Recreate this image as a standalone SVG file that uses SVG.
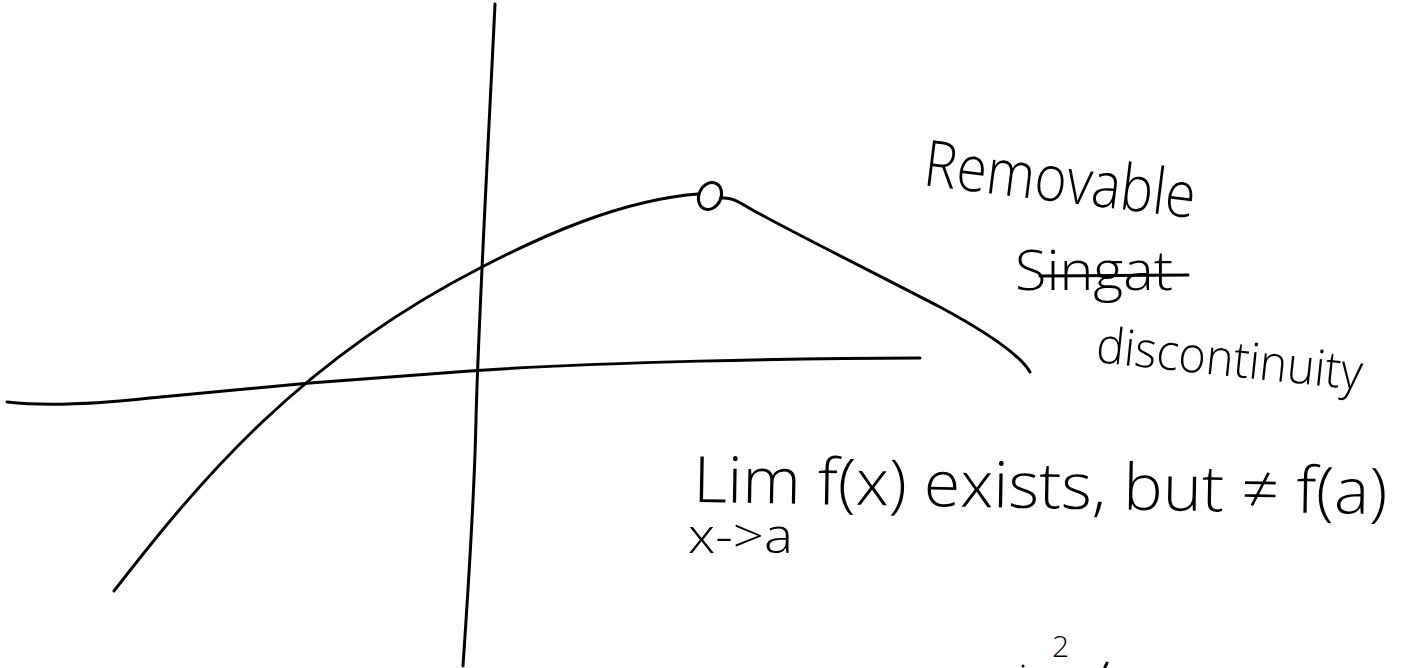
<svg xmlns="http://www.w3.org/2000/svg" width="1410" height="668" viewBox="0 0 1410 668">
<style>
.ln{fill:none;stroke:#000;stroke-width:3;stroke-linecap:round;stroke-linejoin:round}
.hw{font-family:"Open Sans","Liberation Sans",sans-serif;font-weight:300;fill:#000}
</style>
<rect width="1410" height="668" fill="#fff"/>
<g id="axes">
<path class="ln" d="M495,4 C488,150 478,330 476,420 S466,620 463,666"/>
<path class="ln" d="M7,402 Q60,408 150,398 L310,383 L470,371 C600,362 800,358 920,358"/>
</g>
<g id="curve">
<path class="ln" d="M114,591 C200,480 300,360 482,267 C540,237 620,200 698,194"/>
<ellipse class="ln" cx="710" cy="196" rx="11" ry="14" transform="rotate(25 710 196)"/>
<path class="ln" d="M722,198 C735,197 742,205 760,214 C800,236 900,286 940,307 C990,334 1020,355 1030,372"/>
</g>
<g id="labels">
<text class="hw" x="922" y="185" font-size="64" textLength="273" lengthAdjust="spacingAndGlyphs" transform="rotate(7 922 185)">Removable</text>
<text class="hw" x="1015" y="290" font-size="56" textLength="158" lengthAdjust="spacingAndGlyphs">Singat</text>
<line class="ln" x1="1040" y1="276" x2="1188" y2="275"/>
<text class="hw" x="1095" y="362" font-size="50" textLength="267" lengthAdjust="spacingAndGlyphs" transform="rotate(6 1095 362)">discontinuity</text>
<text class="hw" x="693" y="502" font-size="64" textLength="694" lengthAdjust="spacingAndGlyphs" transform="rotate(1 693 502)">Lim f(x) exists, but ≠ f(a)</text>
<text class="hw" x="688" y="553" font-size="48" textLength="105" lengthAdjust="spacingAndGlyphs">x-&gt;a</text>
<text class="hw" x="1052" y="657" font-size="30">2</text>
<circle cx="1023" cy="666" r="1.5" fill="#000"/>
<line class="ln" x1="1107" y1="663" x2="1105" y2="667"/>
</g>
</svg>
